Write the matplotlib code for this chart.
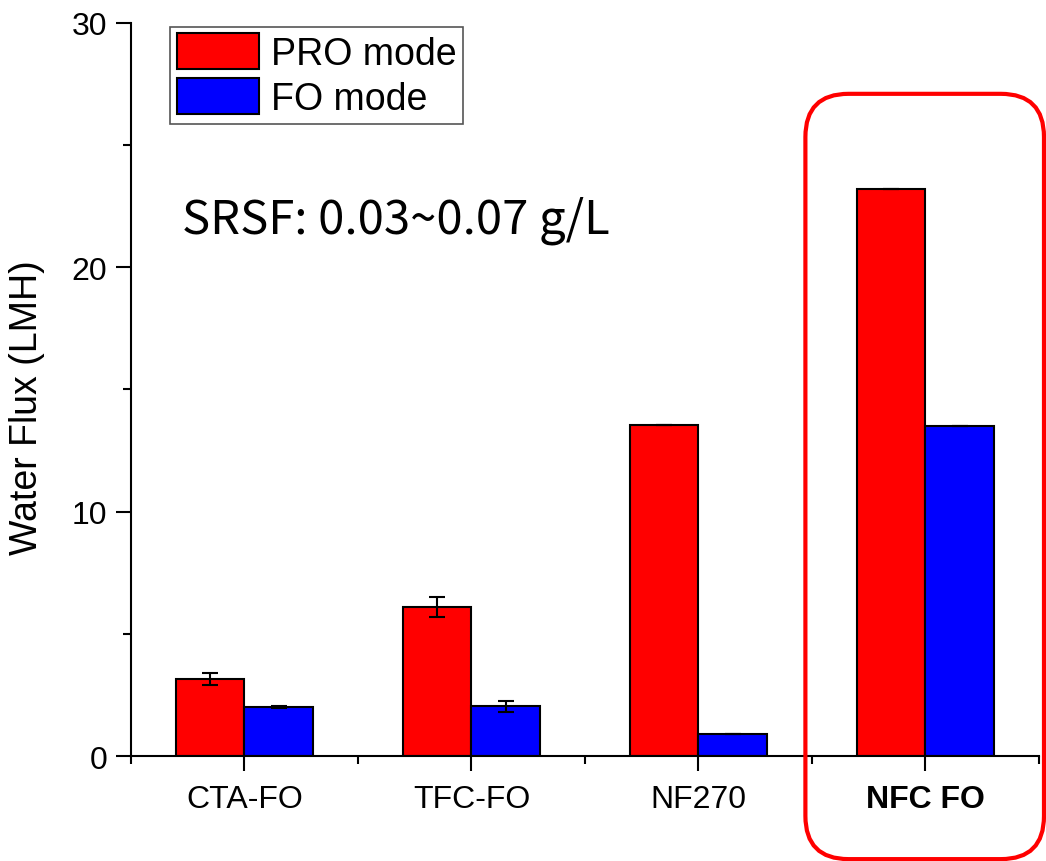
import matplotlib
matplotlib.use('Agg')
import matplotlib.pyplot as plt
import numpy as np
from matplotlib.patches import FancyBboxPatch
from matplotlib.ticker import FixedLocator

plt.rcParams['font.family'] = ['Liberation Sans', 'DejaVu Sans']
plt.rcParams['axes.spines.right'] = False
plt.rcParams['axes.spines.top'] = False

membranes = ['CTA-FO', 'TFC-FO', 'NF270', 'NFC FO']
pro_flux = [3.15, 6.1, 13.55, 23.2]
pro_err = [0.23, 0.4, 0, 0]
fo_flux = [2.0, 2.03, 0.9, 13.5]
fo_err = [0.03, 0.24, 0, 0]

x = np.arange(len(membranes))
w = 0.3

fig = plt.figure(figsize=(10.46, 8.62), dpi=100)
ax = fig.add_axes([0.1252, 0.1218, 0.8681, 0.8504])

ekw = dict(elinewidth=1.5, capthick=1.5, ecolor='black')
ax.bar(x - w/2, pro_flux, w, color='#ff0000', edgecolor='black', linewidth=1.5,
       yerr=pro_err, capsize=6, error_kw=ekw, label='PRO mode', zorder=2)
ax.bar(x + w/2, fo_flux, w, color='#0000ff', edgecolor='black', linewidth=1.5,
       yerr=fo_err, capsize=6, error_kw=ekw, label='FO mode', zorder=2)

ax.set_xlim(-0.5, 3.5)
ax.set_ylim(0, 30)
ax.set_xticks(x)
ax.set_xticklabels(membranes)
ax.get_xticklabels()[3].set_fontweight('bold')
ax.xaxis.set_minor_locator(FixedLocator([-0.5, 0.5, 1.5, 2.5, 3.5]))
ax.set_yticks([0, 10, 20, 30])
ax.yaxis.set_minor_locator(FixedLocator([5, 15, 25]))
ax.tick_params(axis='both', which='major', length=11, width=1.5, labelsize=23, pad=6)
ax.tick_params(axis='both', which='minor', length=6, width=1.5)
ax.tick_params(axis='x', which='major', pad=9)
for s in ['left', 'bottom']:
    ax.spines[s].set_linewidth(1.5)

ax.set_ylabel('Water Flux (LMH)', fontsize=27)
ax.yaxis.set_label_coords(-0.095, 0.477)

leg = ax.legend(loc='upper left', bbox_to_anchor=(0.043, 0.995), fontsize=27,
                handlelength=2.2, handleheight=1.1, labelspacing=0.16,
                borderpad=0.18, handletextpad=0.3, borderaxespad=0,
                fancybox=False, edgecolor='#555555', framealpha=1)
leg.get_frame().set_linewidth(1.2)

ax.text(0.056, 0.731, 'SRSF: 0.03~0.07 g/L', transform=ax.transAxes,
        fontsize=34, family=['Noto Sans CJK KR', 'DejaVu Sans'], va='center')

# rounded highlight around NFC FO
box = FancyBboxPatch((2.471, -4.22), 1.051, 31.32,
                     boxstyle='round,pad=0,rounding_size=0.19', mutation_aspect=9.3,
                     fill=False, edgecolor='#ff0000', linewidth=3, clip_on=False, zorder=5)
ax.add_patch(box)

fig.savefig('out.png', dpi=100)
